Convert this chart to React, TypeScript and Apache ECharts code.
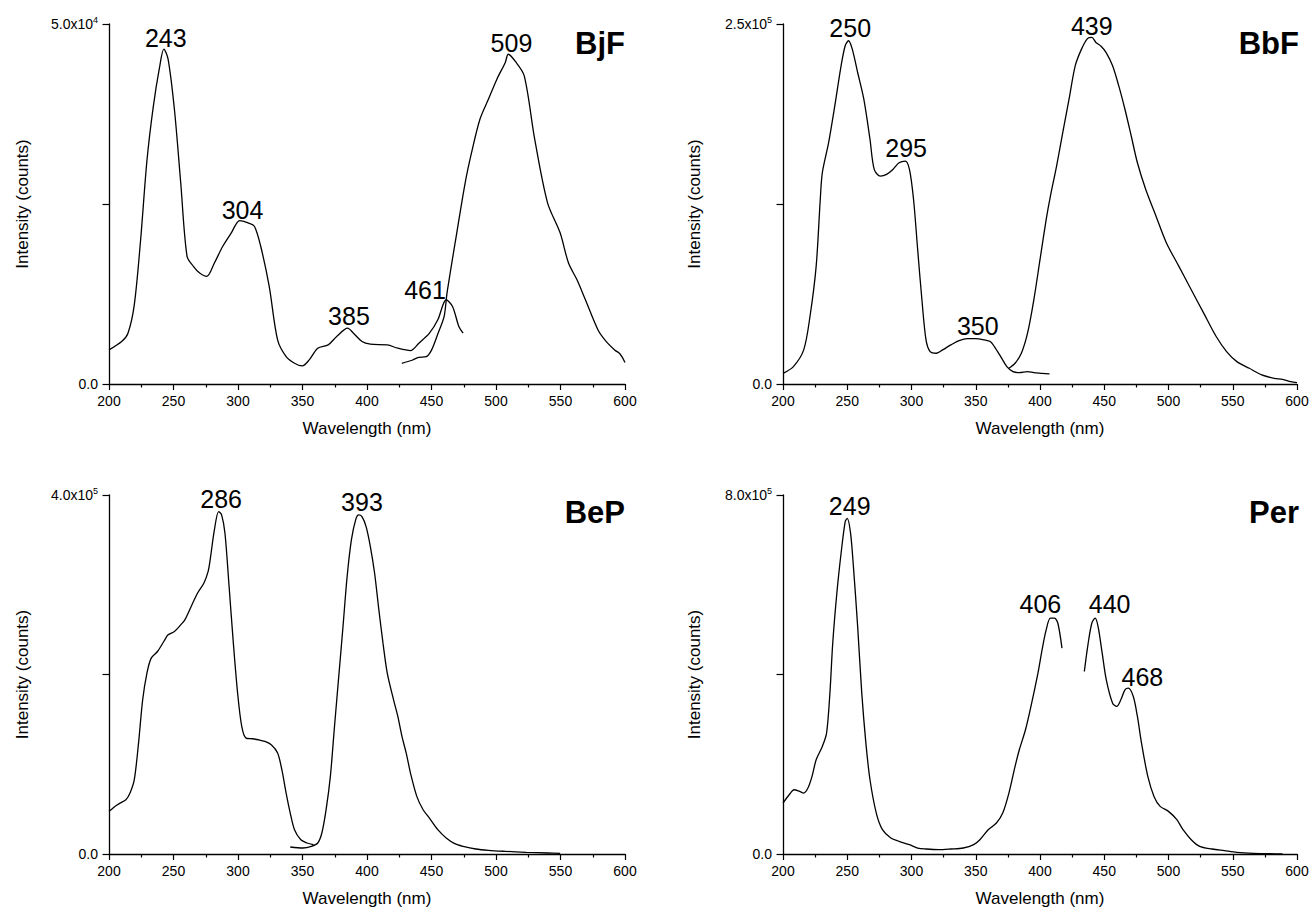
import React, { useEffect, useRef } from 'react';
import * as echarts from 'echarts';

// ---------- data (wavelength nm, intensity counts) ----------
const bjfExcitation = [
  [200, 4736], [209.8, 5896], [214.7, 7057], [219.6, 11000], [224.5, 20000], [229.4, 31000],
  [234.3, 38500], [239.2, 44000], [242.5, 46520], [245.8, 45127], [250.7, 38163], [255.6, 27950],
  [260.5, 17735], [265.4, 16343], [270.3, 15414], [275.8, 14950], [281.7, 16807], [288.2, 19129],
  [294.8, 20986], [301.3, 22704], [307.8, 22379], [312.7, 21914], [317.6, 19129], [324.2, 13557],
  [330.7, 6129], [337.3, 3807], [343.8, 2879], [349.7, 2507], [355.2, 3343], [361.8, 4968],
  [369.9, 5432], [376.5, 6593], [385, 7754], [389.5, 7057], [396.1, 5896], [402.6, 5525],
  [415.7, 5432], [423.9, 4968], [433.7, 4643], [440.2, 5664], [448.4, 7057], [454.9, 8914],
  [461.4, 11700], [466.3, 10771], [471.2, 7986], [474.5, 7057],
];
const bjfEmission = [
  [427, 2880], [435, 3300], [440, 3700], [446, 3800], [450, 4700], [455, 7000], [459.8, 9400],
  [462, 12600], [469.6, 21000], [476.1, 27950], [481, 32100], [487.6, 36800], [494.1, 39550],
  [500.7, 42340], [507.2, 44660], [509.5, 45800], [515, 44800], [521.9, 42800], [530, 34000],
  [539.9, 25200], [549.7, 21000], [556.2, 16800], [562.7, 14500], [569.3, 11700], [579.1, 7500],
  [585, 6000], [592.2, 4700], [596, 4200], [600, 3000],
];
const bbfExcitation = [
  [200, 7427], [208.1, 12069], [216.1, 23674], [221, 46884], [225.8, 81699], [229, 128119],
  [230.6, 146687], [235.5, 167576], [240.3, 193107], [245.2, 220959], [248.4, 234886], [251, 238367],
  [253.9, 232564], [258.1, 216317], [262.9, 197749], [267.7, 169897], [271, 149008], [275.8, 144366],
  [280.6, 145527], [285.5, 149008], [290.3, 153650], [295.2, 154810], [298.4, 149008], [301.6, 128119],
  [304.8, 93305], [308.1, 58489], [311.3, 30637], [314.5, 22514], [319.4, 21353], [324.2, 23674],
  [330.6, 27155], [337.1, 30173], [343.5, 31565], [350, 31565], [356.5, 30637], [361.3, 29477],
  [364.5, 25995], [369.4, 19032], [374.2, 12069], [379, 8588], [383.9, 7892], [390.3, 8588],
  [395.2, 7892], [401.6, 7427], [407.4, 6963],
];
const bbfEmission = [
  [375.8, 10909], [380.6, 14390], [385.5, 21353], [390.3, 35279], [395.2, 58489], [400, 86341],
  [404.8, 114193], [408.1, 130440], [412.9, 151329], [417.7, 174539], [422.6, 197749], [427.4, 220959],
  [432.3, 232564], [437.1, 239992], [440.3, 240688], [443.5, 237206], [447.5, 234500], [451.6, 230000],
  [456.5, 220959], [461.3, 207033], [466.1, 190786], [471, 172218], [475.8, 153650], [482.3, 135082],
  [490.3, 116514], [498.4, 97946], [508.1, 81699], [517.7, 65452], [527.4, 49205], [537.1, 32958],
  [545.2, 22514], [553.2, 15551], [562.9, 10909], [572.6, 6267], [582.3, 3946], [588.7, 3249],
  [595.2, 1625], [600, 928],
];
const bepExcitation = [
  [200, 47500], [206.5, 54923], [213.1, 60489], [216.3, 67911], [219.6, 82755], [222.9, 123576],
  [226.1, 171819], [229.4, 201507], [232.7, 218207], [237.6, 225629], [242.5, 236762], [245.8, 244184],
  [250.7, 247895], [255.6, 255317], [258.8, 260883], [263.7, 275727], [268.6, 290571], [273.5, 301704],
  [276.8, 314693], [278.4, 327681], [281.7, 361080], [285, 381491], [287.3, 377780], [289.9, 357369],
  [293.1, 297993], [296.4, 234906], [299.7, 179241], [302.9, 142131], [306.2, 129143], [311.1, 128400],
  [316, 127287], [320.9, 125431], [325.8, 121720], [330.7, 112443], [334, 93888], [337.3, 67911],
  [340.5, 45645], [343.8, 27090], [348.7, 15957], [353.6, 12246], [358.5, 10391],
];
const bepEmission = [
  [340.5, 7793], [350.3, 6680], [356.9, 8535], [361.8, 12246], [365, 23379], [368.3, 49356],
  [371.6, 86466], [374.8, 142131], [378.1, 197796], [381.4, 253461], [384.6, 309126], [387.9, 349947],
  [391.2, 372213], [393.5, 377780], [396.1, 375924], [399.3, 364791], [402.6, 342525], [405.9, 312837],
  [409.2, 272016], [412.4, 234906], [415.7, 201507], [420.6, 171819], [423.9, 153264], [427.1, 130998],
  [430.4, 112443], [433.7, 90177], [438.6, 64200], [443.5, 49356], [448.4, 40079], [454.9, 27090],
  [461.4, 17813], [468, 11504], [474.5, 8535], [484.3, 5567], [494.1, 4082], [507.2, 2969],
  [523.5, 1856], [539.9, 1113], [549.7, 742],
];
const perExcitation = [
  [200, 113541], [204.8, 132094], [208.7, 143225], [212.9, 139515], [216.1, 135804], [219.4, 146936],
  [222.6, 172909], [225.8, 210014], [230.6, 239698], [233.9, 269382], [236.5, 358434], [238.7, 469749],
  [241.9, 581064], [245.2, 670116], [248.4, 740616], [250, 748037], [252.6, 714642], [254.8, 640432],
  [258.1, 506854], [261.3, 358434], [264.5, 247119], [267.7, 165488], [272.6, 91278], [277.4, 54173],
  [283.9, 35621], [290.3, 28200], [298.4, 20779], [304.8, 13358], [311.3, 11131], [321, 9647],
  [330.6, 11131], [340.3, 13358], [348.4, 20779], [353.2, 31910], [359.7, 54173], [366.1, 69015],
  [371, 91278], [375.8, 135804], [380.6, 195172], [383.9, 232277], [388.7, 276803], [393.5, 336171],
  [398.4, 402960], [401.6, 454907], [404.8, 499433], [408.1, 525407], [411.3, 525407], [413.9, 514275],
  [417.1, 458618],
];
const perEmission = [
  [434.5, 406667], [437.1, 462324], [440.3, 514275], [442.9, 525407], [445.2, 506854], [448.4, 447486],
  [451.6, 388119], [456.5, 336171], [459.7, 328750], [462.9, 343592], [466.1, 365855], [468.7, 369566],
  [472.6, 351013], [475.8, 306487], [479, 247119], [483.9, 172909], [488.7, 128383], [493.5, 106120],
  [500, 94989], [506.5, 76436], [511.3, 54173], [517.7, 31910], [524.2, 17068], [533.9, 11131],
  [543.5, 7421], [553.2, 3711], [566.1, 1484], [579, 742], [588.7, 0],
];

// peak annotations: text, wavelength position, intensity position
const bjfPeakText = ['243', '304', '385', '461', '509'];
const bjfPeakX = [244, 303.5, 386, 445, 512];
const bjfPeakY = [48100, 24100, 9400, 13100, 47400];
const bbfPeakText = ['250', '295', '350', '439'];
const bbfPeakX = [252.3, 295.8, 351.6, 440.3];
const bbfPeakY = [247400, 163700, 40300, 248600];
const bepPeakText = ['286', '393'];
const bepPeakX = [286.9, 396.1];
const bepPeakY = [395500, 392200];
const perPeakText = ['249', '406', '440', '468'];
const perPeakX = [251.9, 400.3, 454.2, 479.7];
const perPeakY = [775500, 557100, 557100, 394400];

const panelNames = ['BjF', 'BbF', 'BeP', 'Per'];
const yMaxValues = [5e4, 2.5e5, 4e5, 8e5];
const yMaxMantissa = ['5.0', '2.5', '4.0', '8.0'];
const yMaxExponent = ['4', '5', '5', '5'];
const xMin = 200;
const xMax = 600;
const xInterval = 50;
const xAxisName = 'Wavelength (nm)';
const yAxisName = 'Intensity (counts)';

const FONT = '"Liberation Sans", Arial, sans-serif';

const grids = [
  { left: 109, top: 24, width: 516, height: 360 },
  { left: 783, top: 24, width: 514, height: 360 },
  { left: 109, top: 495, width: 516, height: 359 },
  { left: 783, top: 495, width: 514, height: 359 },
];

export default function App() {
  const ref = useRef<HTMLDivElement>(null);
  useEffect(() => {
    if (!ref.current) return;
    const chart = echarts.init(ref.current, null, { renderer: 'svg' });
    const curves = [
      [bjfExcitation, bjfEmission],
      [bbfExcitation, bbfEmission],
      [bepExcitation, bepEmission],
      [perExcitation, perEmission],
    ];
    const peaks = [
      [bjfPeakText, bjfPeakX, bjfPeakY],
      [bbfPeakText, bbfPeakX, bbfPeakY],
      [bepPeakText, bepPeakX, bepPeakY],
      [perPeakText, perPeakX, perPeakY],
    ] as [string[], number[], number[]][];

    const xAxis = grids.map((_, i) => ({
      type: 'value',
      gridIndex: i,
      min: xMin,
      max: xMax,
      interval: xInterval,
      name: xAxisName,
      nameLocation: 'middle',
      nameGap: 36,
      nameTextStyle: { fontSize: 17, color: '#000', fontFamily: FONT },
      axisLine: { show: true, onZero: false, lineStyle: { color: '#000', width: 1.3 } },
      axisTick: { show: true, length: 6, lineStyle: { color: '#000', width: 1.2 } },
      minorTick: { show: true, splitNumber: 2, length: 3.5, lineStyle: { color: '#000', width: 1.2 } },
      splitLine: { show: false },
      axisLabel: { fontSize: 14, color: '#000', margin: 10, fontFamily: FONT },
    }));
    const yAxis = grids.map((_, i) => ({
      type: 'value',
      gridIndex: i,
      min: 0,
      max: yMaxValues[i],
      interval: yMaxValues[i] / 2,
      name: yAxisName,
      nameLocation: 'middle',
      nameGap: i % 2 === 0 ? 78 : 80,
      nameTextStyle: { fontSize: 17, color: '#000', fontFamily: FONT },
      axisLine: { show: true, onZero: false, lineStyle: { color: '#000', width: 1.3 } },
      axisTick: { show: true, length: 6.5, lineStyle: { color: '#000', width: 1.2 } },
      splitLine: { show: false },
      axisLabel: {
        color: '#000',
        margin: 11,
        fontFamily: FONT,
        fontSize: 14,
        showMaxLabel: true,
        formatter: (v: number) =>
          v === 0
            ? '{m|0.0}'
            : Math.abs(v - yMaxValues[i]) < 1e-6
            ? `{m|${yMaxMantissa[i]}x10}{e|${yMaxExponent[i]}}`
            : '',
        rich: {
          m: { fontSize: 14, color: '#000', fontFamily: FONT, lineHeight: 17 },
          e: { fontSize: 9, color: '#000', fontFamily: FONT, lineHeight: 10, verticalAlign: 'top' },
        },
      },
    }));

    const series: any[] = [];
    curves.forEach((pair, i) => {
      pair.forEach((d) => {
        series.push({
          type: 'line',
          xAxisIndex: i,
          yAxisIndex: i,
          data: d,
          showSymbol: false,
          symbol: 'none',
          smooth: 0.3,
          lineStyle: { color: '#000', width: 1.3 },
          silent: true,
        });
      });
      const [txt, px, py] = peaks[i];
      series.push({
        type: 'scatter',
        xAxisIndex: i,
        yAxisIndex: i,
        symbolSize: 1,
        itemStyle: { color: 'rgba(255,255,255,0)' },
        silent: true,
        data: txt.map((t, k) => ({ name: t, value: [px[k], py[k]] })),
        label: {
          show: true,
          position: 'inside',
          formatter: '{b}',
          fontSize: 25,
          color: '#000',
          opacity: 1,
          textBorderWidth: 0,
          textBorderColor: 'transparent',
          fontFamily: FONT,
        },
      });
    });

    const titlePos = [
      [625, 43],
      [1299, 43],
      [625, 512],
      [1299, 512],
    ];
    const graphic = panelNames.map((n, i) => ({
      type: 'text',
      x: titlePos[i][0],
      y: titlePos[i][1],
      style: {
        text: n,
        fontSize: 31,
        fontWeight: 'bold',
        fontFamily: FONT,
        fill: '#000',
        textAlign: 'right',
        textVerticalAlign: 'middle',
      },
    }));

    chart.setOption({
      animation: false,
      backgroundColor: '#fff',
      grid: grids,
      xAxis,
      yAxis,
      series,
      graphic,
    });
    return () => chart.dispose();
  }, []);
  return (
    <div
      ref={ref}
      style={{ position: 'fixed', left: 0, top: 0, width: 1312, height: 910, background: '#fff' }}
    />
  );
}
